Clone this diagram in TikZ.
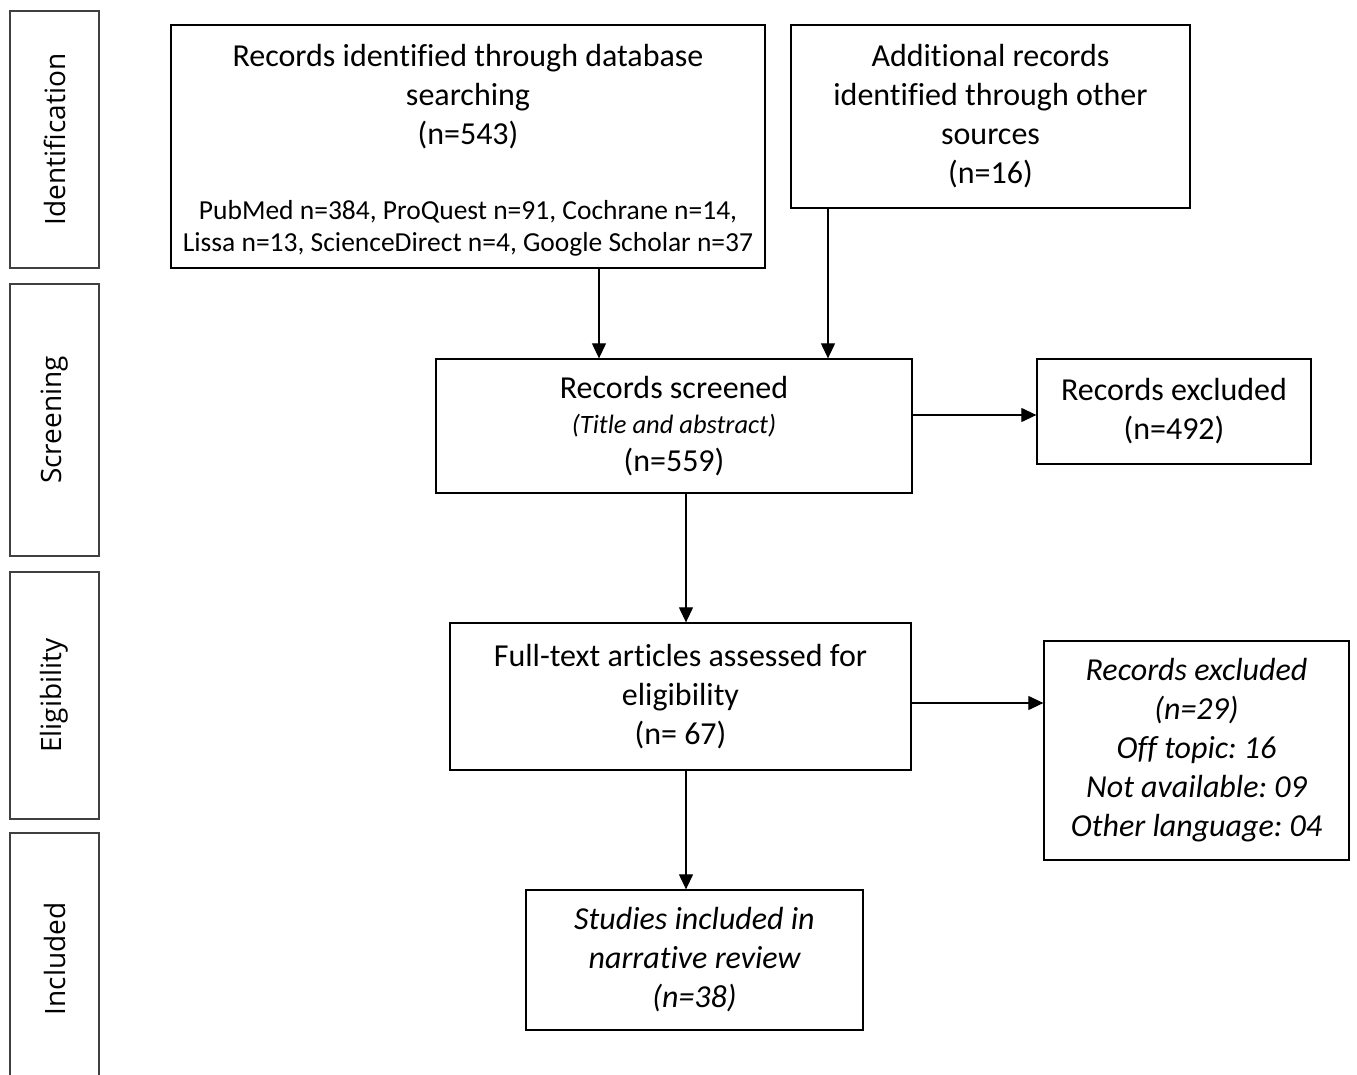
\documentclass[tikz,border=0pt]{standalone}
\usepackage{fontspec}
\setmainfont{Carlito}[Ligatures=NoCommon]
\newfontfamily\phasefont{Open Sans}
\newcommand\notefont{\fontsize{26.5}{30}\selectfont\itshape}
\frenchspacing
\usetikzlibrary{arrows.meta,positioning}
\tikzset{
	flow/.style={x=1pt,y=-1pt,line width=1.3pt},
	box/.style={draw,align=center,inner sep=0pt,font=\fontsize{32}{39}\selectfont},
	boxsize/.style 2 args={minimum width=#1pt,minimum height=#2pt},
	phase/.style={draw=black!75,rotate=90,minimum height=89pt,inner sep=0pt,
		font=\phasefont\fontsize{28}{34}\selectfont},
	dblist/.style={align=center,inner sep=0pt,font=\fontsize{27.5}{32}\selectfont},
	ar/.style={-{Triangle[length=15pt,width=14pt]},line width=1.2pt}
}
\begin{document}
\begin{tikzpicture}[flow]
	\fill[white] (0,0) rectangle (1357,1075);
	\useasboundingbox (0,0) rectangle (1357,1075);
	% phases
	\node[phase,minimum width=257pt] (ident) at (54.5,139.5) {Identification};
	\node[phase,minimum width=272pt] (screen) at (54.5,420) {Screening};
	\node[phase,minimum width=247pt] (elig) at (54.5,695.5) {Eligibility};
	\node[phase,minimum width=252pt] (incl) at (54.5,959) {Included};
	% identification
	\node[box,boxsize={594}{243}] (db) at (468,146.5) {};
	\node[box,draw=none] (dbtext) at (468,97) {Records identified through database\\searching\\(n=543)};
	\node[dblist] (dbsrc) at (468,228) {PubMed n=384, ProQuest n=91, Cochrane n=14,\\Lissa n=13, ScienceDirect n=4, Google Scholar n=37};
	\node[box,boxsize={399}{183}] (other) at (990.5,116.5) {Additional records\\identified through other\\sources\\(n=16)};
	% screening
	\node[box,boxsize={476}{134}] (scr) at (674,426) {Records screened\\[-4pt]{\notefont (Title and abstract)}\\[-1pt](n=559)};
	\node[box,boxsize={274}{105}] (ex1) at (1174,411.5) {Records excluded\\(n=492)};
	% eligibility
	\node[box,boxsize={461}{147}] (ft) at (680.5,696.5) {Full-text articles assessed for\\eligibility\\(n= 67)};
	\node[box,boxsize={305}{219},font=\fontsize{32}{39}\selectfont\itshape] (ex2) at (1196.5,750.5) {Records excluded\\(n=29)\\Off topic: 16\\Not available: 09\\Other language: 04};
	% included
	\node[box,boxsize={337}{140},font=\fontsize{32}{39}\selectfont\itshape] (inc) at (694.5,960) {Studies included in\\narrative review\\(n=38)};
	% connectors
	\coordinate (dbx) at (599,0);
	\coordinate (otx) at (828,0);
	\coordinate (midx) at (686,0);
	\draw[ar] (db.south -| dbx) -- (scr.north -| dbx);
	\draw[ar] (other.south -| otx) -- (scr.north -| otx);
	\draw[ar] (scr.east |- 0,415) coordinate (scrout) -- (scrout -| ex1.west);
	\draw[ar] (scr.south -| midx) -- (ft.north -| midx);
	\draw[ar] (ft.east |- 0,703) coordinate (ftout) -- (ftout -| ex2.west);
	\draw[ar] (ft.south -| midx) -- (inc.north -| midx);
\end{tikzpicture}
\end{document}
